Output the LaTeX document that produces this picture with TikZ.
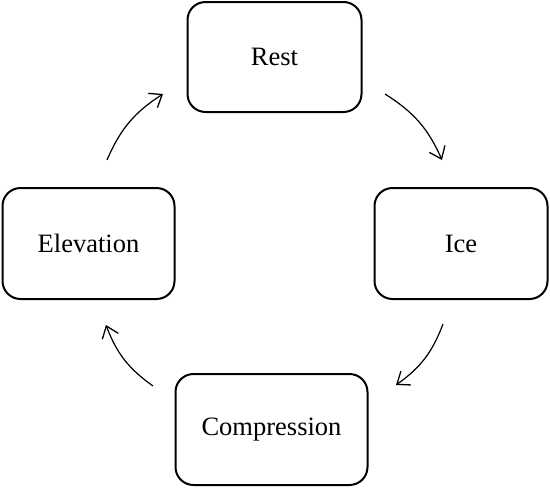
\documentclass[tikz,border=0pt]{standalone}
\usepackage{fontspec}
\setmainfont{Liberation Serif}
\usetikzlibrary{arrows.meta}
\begin{document}
\begin{tikzpicture}[x=1pt,y=-1pt,
  stagebox/.style={draw=black, line width=2pt, rounded corners=18pt, minimum height=110pt,
    inner sep=0pt, font=\fontsize{26.5}{30}\selectfont, fill=white},
  cyclearrow/.style={line width=1.2pt, -{Straight Barb[length=11pt,width=17pt,line width=1.3pt]}, bend left=17}]
\useasboundingbox (0,0) rectangle (550,488);
\node[stagebox, minimum width=174pt] (rest) at (274.5,57) {Rest};
\node[stagebox, minimum width=173pt, minimum height=111pt] (ice) at (461,243.5) {Ice};
\node[stagebox, minimum width=192pt, minimum height=111pt] (comp) at (271.5,429.5) {Compression};
\node[stagebox, minimum width=172pt, minimum height=111pt] (elev) at (88.5,243.5) {Elevation};
\coordinate (a1s) at (385,94);
\coordinate (a1e) at (442,160);
\coordinate (a2s) at (443,324);
\coordinate (a2e) at (396,385);
\coordinate (a3s) at (153,386);
\coordinate (a3e) at (106,325);
\coordinate (a4s) at (107,160);
\coordinate (a4e) at (163,94);
\draw[cyclearrow] (a1s) to (a1e);
\draw[cyclearrow] (a2s) to (a2e);
\draw[cyclearrow] (a3s) to (a3e);
\draw[cyclearrow] (a4s) to (a4e);
\end{tikzpicture}
\end{document}
